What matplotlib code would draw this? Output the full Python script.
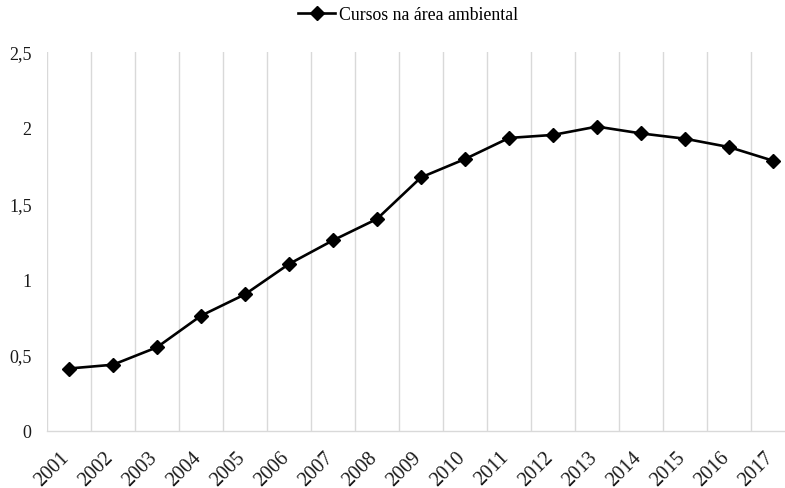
import matplotlib
matplotlib.use("Agg")
import matplotlib.pyplot as plt
import matplotlib.transforms as mtransforms
import numpy as np

years = ["2001", "2002", "2003", "2004", "2005", "2006", "2007", "2008", "2009",
         "2010", "2011", "2012", "2013", "2014", "2015", "2016", "2017"]
values = [0.41, 0.435, 0.55, 0.758, 0.899, 1.099, 1.255, 1.396, 1.67,
          1.791, 1.93, 1.95, 2.005, 1.96, 1.925, 1.87, 1.78]
yticks = [0, 0.5, 1, 1.5, 2, 2.5]
ytick_labels = ["0", "0,5", "1", "1,5", "2", "2,5"]
series_name = "Cursos na área ambiental"

plt.rcParams['font.family'] = ['Liberation Serif', 'DejaVu Serif']

fig = plt.figure(figsize=(7.85, 4.89), dpi=100)
ax = fig.add_axes([47/785, 57.3/489, 748/785, 379.2/489])

x = np.arange(len(years))
line, = ax.plot(x, values, color='black', linewidth=1.9, marker='D',
                markersize=7.5, markerfacecolor='black', markeredgecolor='black',
                label=series_name, clip_on=False, zorder=3)

ax.set_xlim(-0.5, len(years) - 0.5)
ax.set_ylim(0, 2.5)
ax.set_xticks(x)
ax.set_xticklabels(years, rotation=45, ha='right', rotation_mode='default')
ax.set_xticks(np.arange(-0.5, len(years), 1.0), minor=True)
ax.set_yticks(yticks)
ax.set_yticklabels(ytick_labels)

ax.grid(False)
ax.grid(which='minor', axis='x', color='#d9d9d9', linewidth=1.0)
ax.tick_params(axis='both', which='both', length=0)
ax.tick_params(axis='x', which='major', pad=12, labelsize=14.5, labelcolor='#1a1a1a')
ax.tick_params(axis='y', pad=11, labelsize=13, labelcolor='#1a1a1a')

offset = mtransforms.ScaledTranslation(4/100, 0, fig.dpi_scale_trans)
for lab in ax.get_xticklabels():
    lab.set_transform(lab.get_transform() + offset)

for s in ['top', 'right', 'left']:
    ax.spines[s].set_visible(False)
ax.spines['bottom'].set_color('#d9d9d9')
ax.spines['bottom'].set_linewidth(1.0)

fig.legend(handles=[line], loc='center', bbox_to_anchor=(408/785, 1 - 16/489),
           frameon=False, fontsize=12.8, handlelength=2.1, handletextpad=0.2,
           borderpad=0)

fig.savefig("out.png", dpi=100)
